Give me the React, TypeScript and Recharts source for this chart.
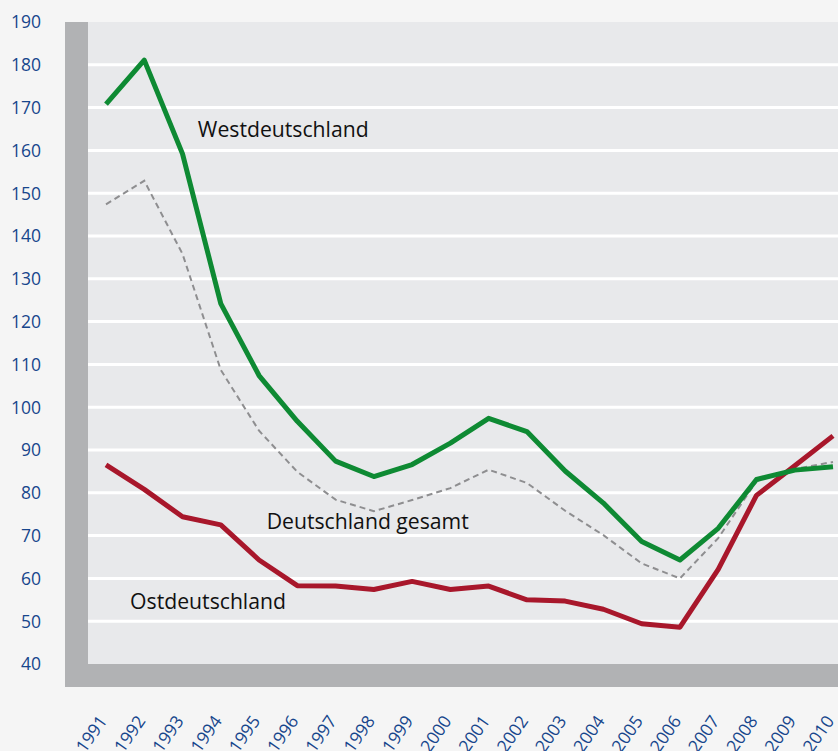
import React from 'react';
import { LineChart, Line, XAxis, YAxis, CartesianGrid, ReferenceLine, ReferenceDot } from 'recharts';

const years = [1991, 1992, 1993, 1994, 1995, 1996, 1997, 1998, 1999, 2000, 2001, 2002, 2003, 2004, 2005, 2006, 2007, 2008, 2009, 2010];
const west = [170.8, 181.1, 159.2, 124.2, 107.4, 96.7, 87.4, 83.8, 86.6, 91.6, 97.4, 94.3, 85.1, 77.6, 68.6, 64.3, 71.7, 83.1, 85.3, 86.1];
const ost = [86.5, 80.8, 74.4, 72.5, 64.3, 58.3, 58.2, 57.4, 59.3, 57.4, 58.2, 55.0, 54.7, 52.8, 49.4, 48.6, 62.1, 79.4, 86.3, 93.3];
const gesamt = [147.4, 152.9, 135.8, 108.7, 94.5, 84.9, 78.4, 75.7, 78.3, 81.1, 85.4, 82.3, 75.8, 70.1, 63.5, 60.0, 69.4, 82.7, 85.6, 87.2];
const yTicks = [40, 50, 60, 70, 80, 90, 100, 110, 120, 130, 140, 150, 160, 170, 180, 190];
const gridValues = [50, 60, 70, 80, 90, 100, 110, 120, 130, 140, 150, 160, 170, 180];

const data = years.map((year, i) => ({ year, west: west[i], ost: ost[i], gesamt: gesamt[i] }));

const FONT = '"Open Sans", "Noto Sans", sans-serif';
const BLUE = '#17468c';

const YTick = (props: any) => {
  const { y, payload } = props;
  return (
    <text x={41} y={y} dy="0.36em" textAnchor="end" fill={BLUE} fontSize={17.5} fontFamily={FONT}>
      {payload.value}
    </text>
  );
};

const XTick = (props: any) => {
  const { x, payload } = props;
  const ax = x + 2;
  const ay = 721;
  return (
    <text x={ax} y={ay} textAnchor="end" fill={BLUE} fontSize={17.5} fontFamily={FONT} transform={`rotate(-55, ${ax}, ${ay})`}>
      {payload.value}
    </text>
  );
};

export default function App() {
  return (
    <div style={{ position: 'absolute', left: 0, top: 0, width: 838, height: 751, background: '#f5f5f5', overflow: 'hidden' }}>
      <div style={{ position: 'absolute', left: 65, top: 22, width: 773, height: 665, background: '#b1b2b4' }} />
      <div style={{ position: 'absolute', left: 0, top: 0 }}>
        <LineChart width={838} height={751} data={data} margin={{ top: 22, right: 0, bottom: 0, left: 0 }}>
          <CartesianGrid horizontal={false} vertical={false} fill="#e8e9eb" />
          <XAxis
            dataKey="year"
            type="number"
            domain={[1991, 2010]}
            ticks={years}
            padding={{ left: 18, right: 5 }}
            axisLine={false}
            tickLine={false}
            height={87}
            tick={<XTick />}
            interval={0}
          />
          <YAxis
            type="number"
            domain={[40, 190]}
            ticks={yTicks}
            width={88}
            axisLine={false}
            tickLine={false}
            tick={<YTick />}
            interval={0}
          />
          {gridValues.map((v) => (
            <ReferenceLine key={v} y={v} stroke="#ffffff" strokeWidth={3} />
          ))}
          <Line dataKey="gesamt" stroke="#8e8e90" strokeWidth={2} strokeDasharray="6 4" dot={false} isAnimationActive={false} />
          <Line dataKey="ost" stroke="#a8172b" strokeWidth={5} dot={false} isAnimationActive={false} strokeLinejoin="round" />
          <Line dataKey="west" stroke="#0e8a33" strokeWidth={5} dot={false} isAnimationActive={false} strokeLinejoin="round" />
          <ReferenceDot x={1993.4} y={164.8} r={0} fill="none" stroke="none"
            label={{ value: 'Westdeutschland', position: 'right', offset: 0, fill: '#111', fontSize: 21.2, fontFamily: FONT }} />
          <ReferenceDot x={1995.2} y={73.2} r={0} fill="none" stroke="none"
            label={{ value: 'Deutschland gesamt', position: 'right', offset: 0, fill: '#111', fontSize: 21.2, fontFamily: FONT }} />
          <ReferenceDot x={1991.63} y={54.7} r={0} fill="none" stroke="none"
            label={{ value: 'Ostdeutschland', position: 'right', offset: 0, fill: '#111', fontSize: 21.2, fontFamily: FONT }} />
        </LineChart>
      </div>
    </div>
  );
}
